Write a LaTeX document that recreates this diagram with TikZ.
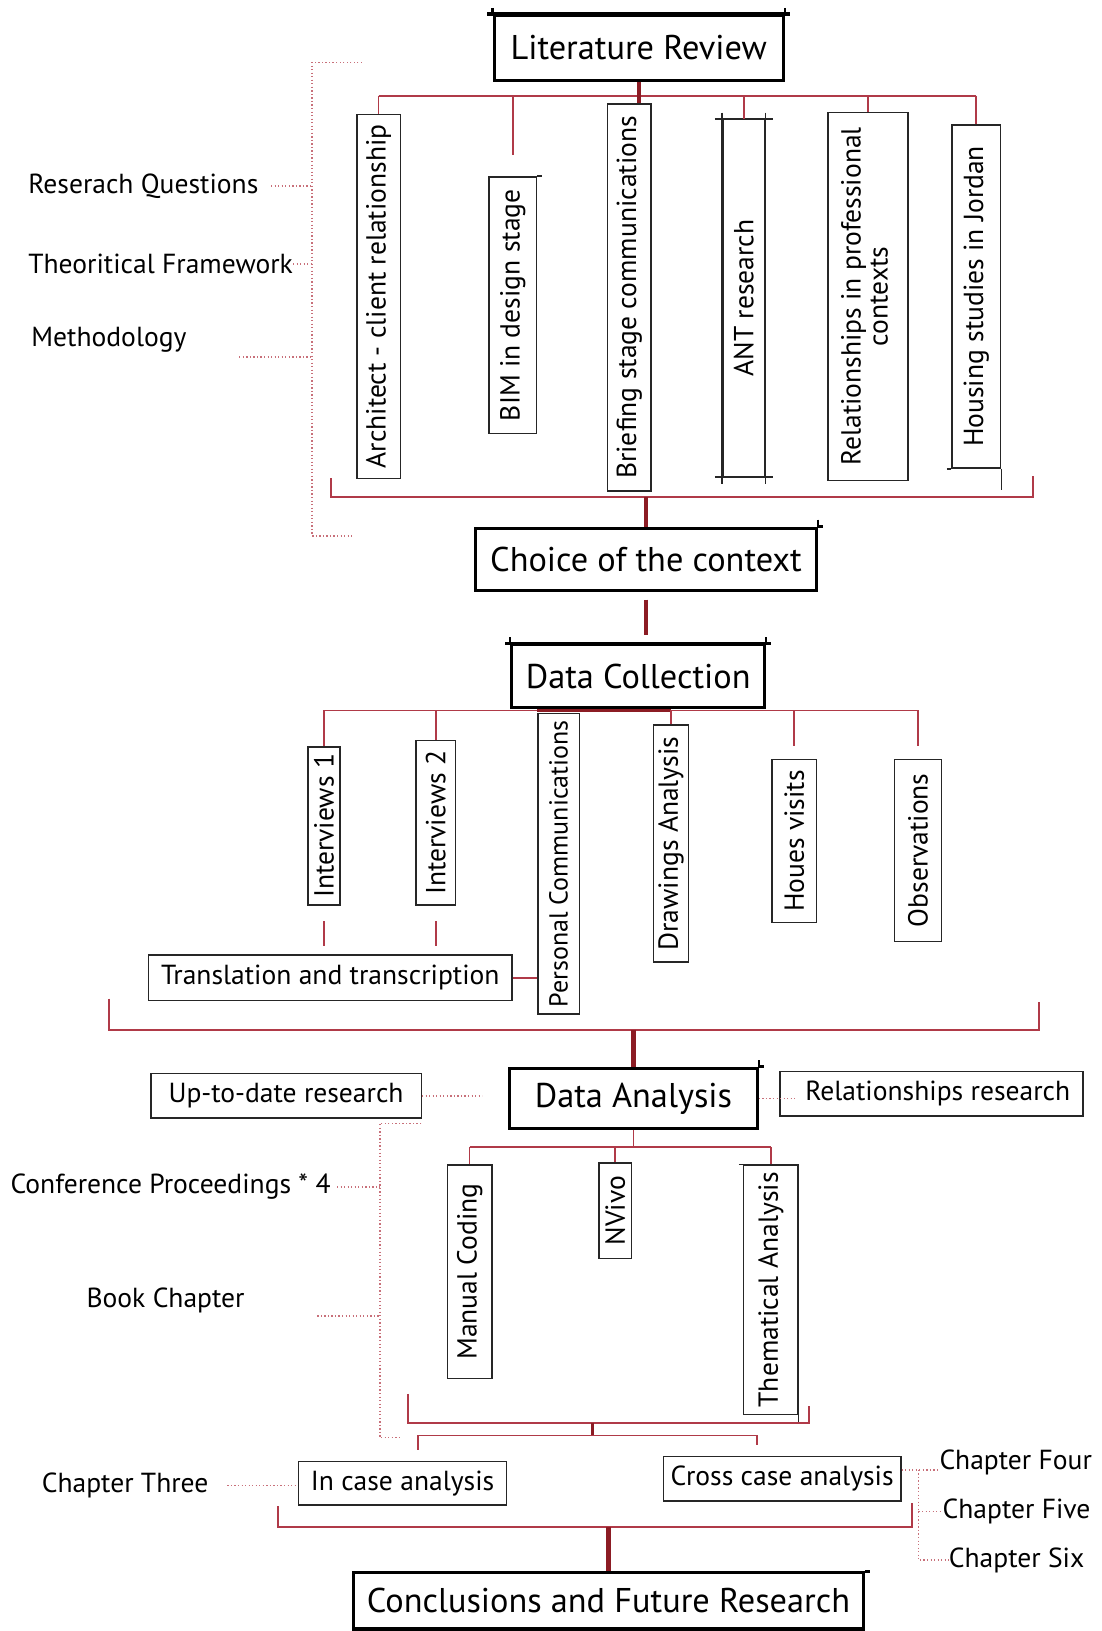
\documentclass[tikz,border=0pt]{standalone}
\usepackage{fontspec}
\setmainfont{PT Sans}
\usetikzlibrary{calc}
\definecolor{linkred}{HTML}{B03A48}
\definecolor{stemred}{HTML}{8C1C24}
\definecolor{dotred}{HTML}{C8707A}

% small overshoots at the top corners of a heavy box
\newcommand{\topticks}[1]{%
  \draw[line width=3pt] ($(#1.north west)+(-5,0)$) -- ($(#1.north east)+(5,0)$);
  \draw[line width=2pt] ($(#1.north west)+(0,-6)$) -- (#1.north west);
  \draw[line width=2pt] ($(#1.north east)+(0,-6)$) -- (#1.north east);}

\begin{document}
\begin{tikzpicture}[x=1pt,y=-1pt,
  mainbox/.style={draw=black, line width=3pt, inner sep=0pt, fill=white, font=\fontsize{33}{36}\selectfont},
  subbox/.style={draw=black!85, line width=1.4pt, inner sep=0pt, fill=white, font=\fontsize{26.5}{29}\selectfont},
  sidetext/.style={inner sep=0pt, anchor=west, font=\fontsize{26.5}{29}\selectfont},
  link/.style={draw=linkred, line width=1.6pt},
  stem/.style={draw=stemred, line width=4pt},
  dots/.style={draw=dotred, line width=1.6pt, dash pattern=on 1.2pt off 2.2pt},
  thin/.style={draw=black!85, line width=1.4pt},
]
\useasboundingbox[fill=white] (0,0) rectangle (1059,1568);

% ---------- Literature review ----------
\node[mainbox, minimum width=278, minimum height=62] (lit) at (614,46) {Literature Review};
\topticks{lit}
\node[subbox, minimum width=42, minimum height=350] (arch) at (364,285) {\rotatebox{90}{Architect - client relationship}};
\node[subbox, minimum width=46, minimum height=247] (bim) at (493,293.5) {\rotatebox{90}{BIM in design stage}};
\node[subbox, minimum width=42, minimum height=372] (brief) at (605,286) {\rotatebox{90}{Briefing stage communications}};
\node[subbox, minimum width=40, minimum height=343] (ant) at (715,286.5) {\rotatebox{90}{ANT research}};
\node[subbox, minimum width=77, minimum height=354] (rel) at (834.5,285) {\rotatebox{90}{\begin{tabular}{@{}c@{}}Relationships in professional\\[-3pt]contexts\end{tabular}}};
\node[subbox, minimum width=47, minimum height=330] (hous) at (938.5,285) {\rotatebox{90}{Housing studies in Jordan}};
% ruled edges running past the corners
\draw[thin] ($(ant.north west)+(-7,0)$) -- ($(ant.north east)+(7,0)$);
\draw[thin] ($(ant.south west)+(-7,0)$) -- ($(ant.south east)+(7,0)$);
\draw[thin] ($(ant.north west)+(0,-6)$) -- ($(ant.south west)+(0,7)$);
\draw[thin] ($(ant.north east)+(0,-6)$) -- ($(ant.south east)+(0,7)$);
\draw[thin] ($(hous.south west)+(-4,0)$) -- (hous.south west);
\draw[thin] (hous.south east) -- ($(hous.south east)+(0,20)$);
\draw[thin] (bim.north east) -- ($(bim.north east)+(4,0)$);

\coordinate (tb) at (614,92);
\draw[link] (arch.north |- tb) -- (hous.north |- tb);
\draw[link] (arch.north |- tb) -- (arch.north);
\path (bim.north) ++(0,-20) coordinate (bimgap);
\draw[link] (bim.north |- tb) -- (bimgap);
\draw[link] (ant.north |- tb) -- (ant.north);
\draw[link] (rel.north |- tb) -- (rel.north);
\draw[link] (hous.north |- tb) -- (hous.north);
\draw[stem] (lit.south) -- (lit.south |- brief.north);

% side notes of the first stage
\node[sidetext] (rq) at (27,179) {Reserach Questions};
\node[sidetext] (tf) at (27,254) {Theoritical Framework};
\node[sidetext] (meth) at (30,327) {Methodology};
\coordinate (qa) at (300,60);
\coordinate (qb) at (300,515);
\draw[dots] (348,60) -- (qa) -- (qb) -- (340,515);
\draw[dots, shorten <=12pt] (rq.east) -- (rq.east -| qa);
\draw[dots] (tf.east) -- (tf.east -| qa);
\coordinate (mt) at (230,343);
\draw[dots] (mt) -- (mt -| qa);

% closing bracket
\coordinate (lb1) at (318,460);
\coordinate (lb2) at (993,458);
\coordinate (tj) at (627,478);
\draw[link] (lb1) -- (lb1 |- tj) -- (lb2 |- tj) -- (lb2);

% ---------- Choice of the context ----------
\node[mainbox, minimum width=328, minimum height=60] (choice) at (621,538) {Choice of the context};
\draw[line width=3pt] (choice.north east) -- ($(choice.north east)+(5,0)$);
\draw[line width=2pt] ($(choice.north east)+(0,-7)$) -- (choice.north east);
\draw[stem] (choice.north |- tj) -- (choice.north);

% ---------- Data collection ----------
\node[mainbox, minimum width=243, minimum height=60] (dcol) at (613.5,650) {Data Collection};
\topticks{dcol}
\draw[stem, shorten <=7pt, shorten >=8pt] (choice.south) -- (choice.south |- dcol.north);

\node[subbox, minimum width=31, minimum height=152] (int1) at (311.5,794) {\rotatebox{90}{Interviews 1}};
\node[subbox, minimum width=38, minimum height=158] (int2) at (419,791) {\rotatebox{90}{Interviews 2}};
\node[subbox, minimum width=40, minimum height=289, font=\fontsize{25}{28}\selectfont] (pers) at (537,830.5) {\rotatebox{90}{Personal Communications}};
\node[subbox, minimum width=34, minimum height=228] (drw) at (645,811) {\rotatebox{90}{Drawings Analysis}};
\node[subbox, minimum width=43, minimum height=157] (hv) at (763.5,808.5) {\rotatebox{90}{Houes visits}};
\node[subbox, minimum width=45, minimum height=175] (obs) at (882.5,817.5) {\rotatebox{90}{Observations}};
\node[subbox, minimum width=349, minimum height=44] (trans) at (317.5,940) {Translation and transcription};

\coordinate (dj) at (613,683);
\draw[link] (int1.north |- dj) -- (obs.north |- dj);
\draw[stem, line width=3pt] (pers.north west |- dj) -- (drw.north |- dj);
\draw[link] (int1.north |- dj) -- (int1.north);
\draw[link] (int2.north |- dj) -- (int2.north);
\draw[link] (drw.north |- dj) -- (drw.north);
\draw[link, shorten >=12pt] (hv.north |- dj) -- (hv.north);
\draw[link, shorten >=12pt] (obs.north |- dj) -- (obs.north);
\draw[link, shorten <=15pt, shorten >=8pt] (int1.south) -- (int1.south |- trans.north);
\draw[link, shorten <=15pt, shorten >=8pt] (int2.south) -- (int2.south |- trans.north);
\draw[link] (trans.east) -- (trans.east -| pers.west);

\coordinate (cb1) at (105,960);
\coordinate (cb2) at (999,963);
\coordinate (cj) at (618,990);
\draw[link] (cb1) -- (cb1 |- cj) -- (cb2 |- cj) -- (cb2);

% ---------- Data analysis ----------
\node[mainbox, minimum width=238, minimum height=58] (dan) at (609,1056) {Data Analysis};
\draw[line width=3pt] (dan.north east) -- ($(dan.north east)+(5,0)$);
\draw[line width=2pt] ($(dan.north east)+(0,-6)$) -- (dan.north east);
\draw[stem] (dan.north |- cj) -- (dan.north);

\node[subbox, minimum width=260, minimum height=43] (upd) at (275,1053.5) {Up-to-date research};
\node[subbox, minimum width=291, minimum height=43] (relr) at (895.5,1051.5) {\hspace*{12pt}Relationships research};
\draw[dots, shorten >=25pt] (upd.east) -- (upd.east -| dan.west);
\draw[dots, shorten >=-15pt] (dan.east) -- (dan.east -| relr.west);

\node[subbox, minimum width=43, minimum height=205] (man) at (451.5,1222.5) {\rotatebox{90}{Manual Coding}};
\node[subbox, minimum width=31, minimum height=92] (nv) at (591.5,1164) {\rotatebox{90}{NVivo}};
\node[subbox, minimum width=52, minimum height=240] (them) at (741,1240) {\rotatebox{90}{Thematical Analysis}};
\draw[thin] (them.south east) -- ($(them.south east)+(0,8)$);
\draw[thin] ($(them.north west)+(-4,0)$) -- (them.north west);

\coordinate (aj) at (608,1103);
\draw[link] (dan.south) -- (dan.south |- aj);
\draw[link] (man.north |- aj) -- (them.north |- aj);
\draw[link] (man.north |- aj) -- (man.north);
\draw[link] (nv.north |- aj) -- (nv.north);
\draw[link] (them.north |- aj) -- (them.north);

% side notes of the analysis stage
\node[sidetext] (conf) at (10,1141) {Conference Proceedings * 4};
\node[sidetext] (book) at (83,1250) {Book Chapter};
\coordinate (pa) at (365,1080);
\coordinate (pb) at (365,1382);
\draw[dots] (405,1080) -- (pa) -- (pb) -- (385,1382);
\draw[dots, shorten <=6pt] (conf.east) -- (conf.east -| pa);
\coordinate (bt) at (305,1265);
\draw[dots] (bt) -- (bt -| pa);

\coordinate (ab1) at (392,1340);
\coordinate (ab2) at (778,1352);
\coordinate (abj) at (570,1368);
\draw[link] (ab1) -- (ab1 |- abj) -- (ab2 |- abj) -- (ab2);

% ---------- Case analyses ----------
\node[subbox, minimum width=200, minimum height=42] (incase) at (387,1426) {In case analysis};
\node[subbox, minimum width=228, minimum height=43] (cross) at (752,1421.5) {Cross case analysis};
\coordinate (sj) at (570,1380);
\draw[stem, line width=3pt] (abj) -- (sj);
\coordinate (sl) at (402,1380);
\coordinate (sr) at (728,1380);
\draw[link] (sl) -- (sr);
\draw[link, shorten >=10pt] (sl) -- (sl |- incase.north);
\draw[link, shorten >=10pt] (sr) -- (sr |- cross.north);

\node[sidetext] (ch3) at (40,1428) {Chapter Three};
\node[sidetext] (ch4) at (903,1406) {Chapter Four};
\node[sidetext] (ch5) at (906,1453) {Chapter Five};
\node[sidetext] (ch6) at (912,1500) {Chapter Six};
\draw[dots, shorten <=18pt, shorten >=2pt] (ch3.east) -- (ch3.east -| incase.west);
\coordinate (kj) at (883,1413);
\draw[dots] (cross.east |- kj) -- (ch4.west |- kj);
\draw[dots] (kj) -- (kj |- ch6.west) -- (ch6.west);
\draw[dots] (kj |- ch5.west) -- (ch5.west);

\coordinate (eb1) at (267,1448);
\coordinate (eb2) at (877,1445);
\coordinate (ej) at (582,1468);
\draw[link] (eb1) -- (eb1 |- ej) -- (eb2 |- ej) -- (eb2);

% ---------- Conclusions ----------
\node[mainbox, minimum width=490, minimum height=54] (concl) at (585,1539) {Conclusions and Future Research};
\draw[line width=3pt] (concl.north east) -- ($(concl.north east)+(5,0)$);
\draw[stem] (concl.north |- ej) -- (concl.north);

\end{tikzpicture}
\end{document}
